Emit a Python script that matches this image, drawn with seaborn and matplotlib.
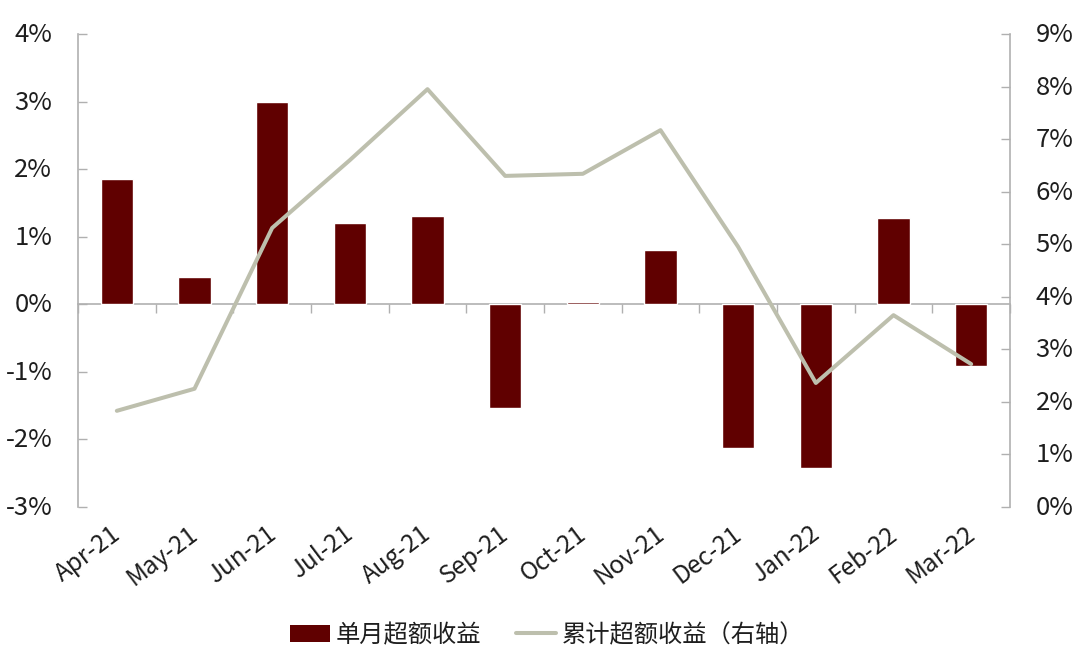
import matplotlib
import seaborn as sns
from matplotlib import pyplot as plt
from matplotlib.lines import Line2D
from matplotlib.patches import Patch
from matplotlib.transforms import ScaledTranslation

matplotlib.use("Agg")

sns.set_theme(style="white")
plt.rcParams["font.family"] = ["Noto Sans CJK SC", "DejaVu Sans"]

months = ["Apr-21", "May-21", "Jun-21", "Jul-21", "Aug-21", "Sep-21",
          "Oct-21", "Nov-21", "Dec-21", "Jan-22", "Feb-22", "Mar-22"]
monthly_excess = [1.85, 0.41, 2.99, 1.20, 1.30, -1.53, 0.03, 0.80, -2.12, -2.43, 1.28, -0.91]
cumulative_excess = [1.83, 2.25, 5.31, 6.60, 7.95, 6.30, 6.34, 7.17, 4.95, 2.36, 3.65, 2.72]
left_ticks = [-3, -2, -1, 0, 1, 2, 3, 4]
right_ticks = [0, 1, 2, 3, 4, 5, 6, 7, 8, 9]
monthly_name = "单月超额收益"
cumulative_name = "累计超额收益（右轴）"

BAR_COLOR = "#600000"
LINE_COLOR = "#BDBFAD"
AXIS_COLOR = "#B0B0B0"
TEXT_COLOR = "#1E1E1E"


def nudge(labels, dx_px, dy_px):
    offset = ScaledTranslation(dx_px / 100, dy_px / 100, fig.dpi_scale_trans)
    for label in labels:
        label.set_transform(label.get_transform() + offset)


fig = plt.figure(figsize=(10.8, 6.55), dpi=100)
ax = fig.add_axes([78 / 1080, 148 / 655, 932 / 1080, 473 / 655])

sns.barplot(x=months, y=monthly_excess, color=BAR_COLOR, saturation=1, width=0.42, ax=ax)
ax.set_xlim(-0.5, 11.5)
ax.set_ylim(-3, 4)
ax.set_yticks(left_ticks)
ax.set_yticklabels([f"{v}%" for v in left_ticks])

ax.spines["top"].set_visible(False)
ax.spines["right"].set_visible(False)
ax.spines["left"].set_color(AXIS_COLOR)
ax.spines["bottom"].set_color(AXIS_COLOR)
ax.spines["bottom"].set_position(("data", 0))
for spine in ax.spines.values():
    spine.set_linewidth(1.2)
    spine.set_zorder(0.5)
ax.set_axisbelow(True)

# boundaries between months carry the tick marks, labels sit at the bottom of the plot
ax.set_xticks([i - 0.5 for i in range(13)], minor=True)
ax.tick_params(axis="x", which="minor", direction="out", length=6.5, width=1.0,
               color=AXIS_COLOR, bottom=True)
ax.tick_params(axis="x", which="major", length=0, pad=156)
ax.set_xticks(range(12))
ax.set_xticklabels(months, rotation=37, ha="right", rotation_mode="anchor",
                   fontsize=17.5, color=TEXT_COLOR)
ax.tick_params(axis="y", direction="in", length=6.5, width=1.0, color=AXIS_COLOR,
               labelsize=18.5, labelcolor=TEXT_COLOR, pad=18.5, left=True)
nudge(ax.get_xticklabels(), -7, 0)
nudge(ax.get_yticklabels(), 0, 2)

ax2 = ax.twinx()
sns.lineplot(x=list(range(12)), y=cumulative_excess, color=LINE_COLOR, linewidth=2.9, ax=ax2)
ax2.set_ylim(0, 9)
ax2.set_yticks(right_ticks)
ax2.set_yticklabels([f"{v}%" for v in right_ticks])
ax2.spines["top"].set_visible(False)
ax2.spines["left"].set_visible(False)
ax2.spines["bottom"].set_visible(False)
ax2.spines["right"].set_color(AXIS_COLOR)
ax2.spines["right"].set_linewidth(1.2)
ax2.tick_params(axis="y", direction="in", length=6.5, width=1.0, color=AXIS_COLOR,
                labelsize=18.5, labelcolor=TEXT_COLOR, pad=18.5, right=True)
nudge(ax2.get_yticklabels(), 0, 2)

handles = [
    Patch(facecolor=BAR_COLOR, edgecolor="none", label=monthly_name),
    Line2D([0], [0], color=LINE_COLOR, linewidth=2.9, label=cumulative_name),
]
fig.legend(handles=handles, loc="center", bbox_to_anchor=(547 / 1080, 1 - 635 / 655), ncol=2,
           frameon=False, fontsize=17.5, labelcolor=TEXT_COLOR, handlelength=1.65,
           handleheight=0.75, handletextpad=0.25, columnspacing=1.4)

plt.savefig("out.png", dpi=100)
